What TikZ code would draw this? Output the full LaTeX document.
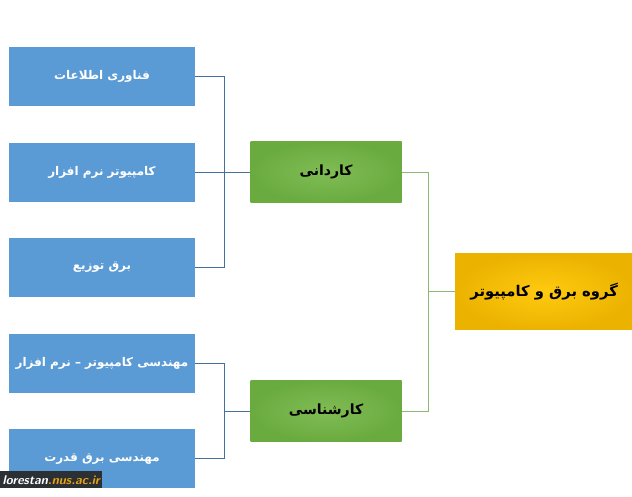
\documentclass[tikz,border=0pt]{standalone}
\usepackage{fontspec}
\usepackage{xcolor}
\usepackage{tikz}
\usetikzlibrary{positioning,calc}
\TeXXeTstate=1
\newfontfamily\farsi[Script=Arabic]{DejaVu Sans}
\definecolor{leafblue}{HTML}{5B9BD5}
\definecolor{bluelink}{HTML}{41719C}
\definecolor{levgreen}{HTML}{6AAB3F}
\definecolor{levgreenlt}{HTML}{80BD55}
\definecolor{greenlink}{HTML}{8DB873}
\definecolor{grpgold}{HTML}{EBB300}
\definecolor{grpgoldlt}{HTML}{FFCA10}
\definecolor{wmdark}{HTML}{2B3035}
\definecolor{wmorange}{HTML}{E8A317}
\tikzset{
  leaf/.style={fill=leafblue, align=center, inner xsep=2pt, minimum width=4.65cm, minimum height=1.475cm, text=white, font=\farsi\bfseries\fontsize{8.5pt}{10pt}\selectfont},
  level/.style={inner color=levgreenlt, outer color=levgreen, align=center, minimum width=3.775cm, minimum height=1.525cm, font=\farsi\bfseries},
  group/.style={inner color=grpgoldlt, outer color=grpgold, align=center, minimum width=4.45cm, minimum height=1.9cm, font=\farsi\bfseries\fontsize{10.5pt}{13pt}\selectfont},
  bline/.style={draw=bluelink, semithick},
  gline/.style={draw=greenlink, semithick}
}

\begin{document}
\begin{tikzpicture}
  \useasboundingbox (0,0) rectangle (15.8,-12.425);
  \node[leaf] (it) at (2.55,-1.9125) {\beginR فناوری اطلاعات\endR};
  \node[leaf, below=0.9cm of it] (sw) {\beginR کامپیوتر نرم افزار\endR};
  \node[leaf, below=0.9cm of sw] (tz) {\beginR برق توزیع\endR};
  \node[leaf, below=0.9cm of tz] (ce) {\beginR مهندسی کامپیوتر – نرم افزار\endR};
  \node[leaf, below=0.9cm of ce] (pe) {\beginR مهندسی برق قدرت\endR};
  \node[level, right=1.375cm of sw] (kardani) {\beginR کاردانی\endR};
  \coordinate (lowmid) at ($(ce)!0.5!(pe)$);
  \node[level] (karshenasi) at (kardani |- lowmid) {\beginR کارشناسی\endR};
  \coordinate (levmid) at ($(kardani.east)!0.5!(karshenasi.east)$);
  \node[group, anchor=west, xshift=1.325cm] (dept) at (levmid) {\beginR گروه برق و کامپیوتر\endR};

  % blue links
  \foreach \n in {it,sw,tz}
    \draw[bline] (\n.east) -- ++(0.725,0) |- (kardani.west);
  \foreach \n in {ce,pe}
    \draw[bline] (\n.east) -- ++(0.725,0) |- (karshenasi.west);
  % green links
  \draw[gline] (kardani.east) -- ++(0.675,0) |- (dept.west);
  \draw[gline] (karshenasi.east) -- ++(0.675,0) |- (dept.west);

  % watermark
  \node[fill=wmdark, anchor=north west, minimum width=2.55cm, minimum height=0.42cm, inner sep=1pt, font=\sffamily\bfseries\itshape\small] (wm) at (0,-11.775) {\textcolor{white}{lorestan}\textcolor{wmorange}{.nus.ac.ir}};
\end{tikzpicture}
\end{document}
